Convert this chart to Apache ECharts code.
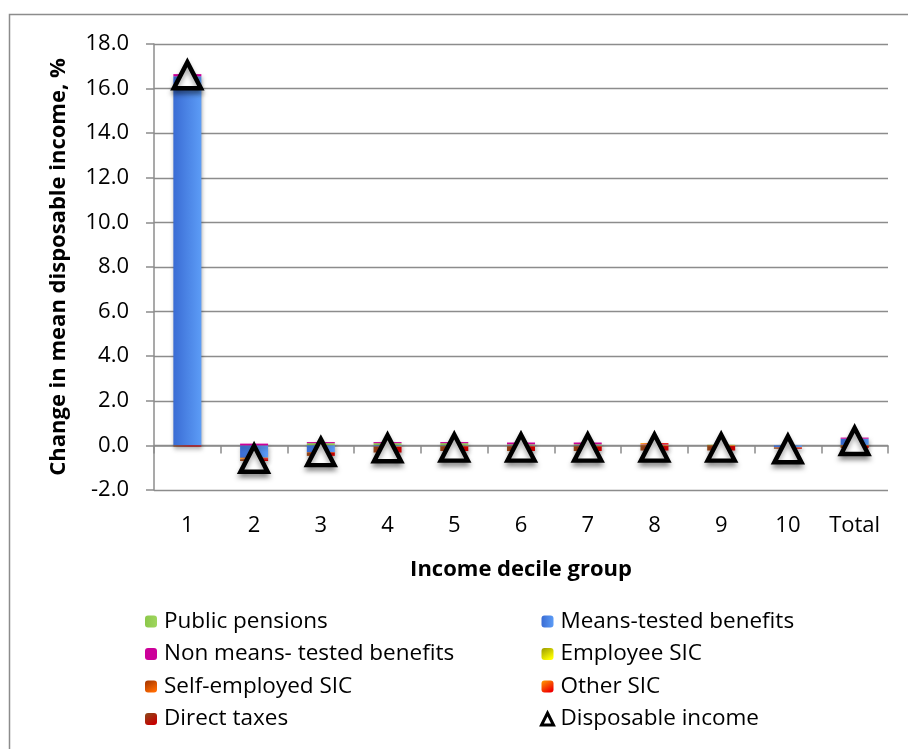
<!DOCTYPE html>
<html><head><meta charset="utf-8">
<script src="https://cdn.jsdelivr.net/npm/echarts@6/dist/echarts.min.js"></script>
<style>html,body{margin:0;padding:0;background:#fff}#c{width:908px;height:749px}</style>
</head><body><div id="c"></div>
<script>
var categories = ['1','2','3','4','5','6','7','8','9','10','Total'];
var publicPensions   = [0, 0, 0.10, 0.10, 0.10, 0.05, 0.05, 0.03, 0.03, 0, 0.02];
var meansTested      = [16.55, -0.55, -0.30, -0.05, -0.02, -0.02, -0.02, 0, 0, -0.08, 0.28];
var nonMeansTested   = [0.10, 0.08, 0.05, 0.05, 0.05, 0.08, 0.08, 0.02, 0, 0, 0.05];
var employeeSIC      = [0, 0, 0, 0, 0, 0, 0, 0, 0, 0, 0];
var selfEmployedSIC  = [0, -0.03, -0.02, -0.02, -0.03, -0.03, -0.03, -0.03, -0.03, -0.02, -0.02];
var otherSIC         = [0, -0.04, 0, 0, 0, 0, 0, 0.05, 0, 0, 0];
var directTaxes      = [-0.05, -0.08, -0.15, -0.25, -0.20, -0.20, -0.20, -0.20, -0.20, -0.05, -0.10];
var disposableIncome = [16.6, -0.6, -0.3, -0.13, -0.1, -0.1, -0.1, -0.1, -0.1, -0.17, 0.2];
var yTicks = {min: -2, max: 18, interval: 2};

var FONT = 'Open Sans';
function grad(c1, c2, x2, y2) {
  return new echarts.graphic.LinearGradient(0, 0, x2, y2, [{offset: 0, color: c1}, {offset: 1, color: c2}]);
}
function barSeries(name, data, color) {
  return {
    name: name, type: 'bar', stack: 'all', data: data, barWidth: 28, xAxisIndex: 0,
    itemStyle: {color: color, shadowColor: 'rgba(0,0,0,0.35)', shadowBlur: 4, shadowOffsetY: 3, shadowOffsetX: 1}
  };
}
var chart = echarts.init(document.getElementById('c'));
var legendText = {fontFamily: FONT, fontSize: 22.5, color: '#000', padding: [0, 0, 0, 2], lineHeight: 22};
chart.setOption({
  animation: false,
  grid: {left: 154, right: 20, top: 44, bottom: 259, containLabel: false},
  graphic: [{type: 'rect', shape: {x: 9.5, y: 14.5, width: 1000, height: 1000}, style: {fill: 'none', stroke: '#8c8c8c', lineWidth: 1.5}, silent: true}],
  legend: [
    {left: 140, top: 605, orient: 'vertical', itemWidth: 12, itemHeight: 12, itemGap: 9.5, textStyle: legendText,
     data: ['Public pensions', 'Non means- tested benefits', 'Self-employed SIC', 'Direct taxes']},
    {left: 535, top: 605, orient: 'vertical', itemWidth: 12, itemHeight: 12, itemGap: 9.5, textStyle: legendText,
     data: ['Means-tested benefits', 'Employee SIC', 'Other SIC',
            {name: 'Disposable income', icon: 'triangle', itemStyle: {color: '#fff', borderColor: '#000', borderWidth: 3, opacity: 1}}]}
  ],
  xAxis: [
    {type: 'category', data: categories, position: 'bottom',
     axisLine: {show: false, onZero: false}, axisTick: {show: false},
     axisLabel: {fontFamily: FONT, fontSize: 22, color: '#000', margin: 25},
     name: 'Income decile group', nameLocation: 'middle', nameGap: 69,
     nameTextStyle: {fontFamily: FONT, fontSize: 22, fontWeight: 'bold', color: '#000'}},
    {type: 'category', data: categories, position: 'bottom',
     axisLine: {show: true, onZero: true, lineStyle: {color: '#8c8c8c', width: 1.5}},
     axisTick: {show: true, length: 8, lineStyle: {color: '#8c8c8c', width: 1.5}},
     axisLabel: {show: false}}
  ],
  yAxis: {
    type: 'value', min: yTicks.min, max: yTicks.max, interval: yTicks.interval,
    axisLine: {show: true, lineStyle: {color: '#8c8c8c', width: 1.5}},
    axisTick: {show: true, length: 8, lineStyle: {color: '#8c8c8c', width: 1.5}},
    splitLine: {show: true, lineStyle: {color: '#8c8c8c', width: 1.3}},
    axisLabel: {fontFamily: FONT, fontSize: 22, color: '#000', margin: 25, formatter: function (v) { return v.toFixed(1); }},
    name: 'Change in mean disposable income, %', nameLocation: 'middle', nameGap: 84, nameRotate: 90,
    nameTextStyle: {fontFamily: FONT, fontSize: 22, fontWeight: 'bold', color: '#000'}
  },
  series: [
    barSeries('Public pensions', publicPensions, grad('#8cc84a', '#9fd65e', 1, 0)),
    barSeries('Means-tested benefits', meansTested, grad('#3a6cd4', '#5c9cf6', 1, 0)),
    barSeries('Non means- tested benefits', nonMeansTested, '#cc0099'),
    barSeries('Employee SIC', employeeSIC, grad('#9a9a00', '#ffff00', 0.6, 1)),
    barSeries('Self-employed SIC', selfEmployedSIC, grad('#a03300', '#ff6a00', 0.6, 1)),
    barSeries('Other SIC', otherSIC, grad('#ff9d00', '#f00000', 0.6, 1)),
    barSeries('Direct taxes', directTaxes, grad('#8a4a1a', '#c80000', 0.6, 1)),
    {name: 'Disposable income', type: 'scatter', data: disposableIncome, xAxisIndex: 0,
     symbol: 'triangle', symbolSize: [27, 26], z: 5,
     itemStyle: {color: '#fff', borderColor: '#000', borderWidth: 4.5, opacity: 1,
                 shadowColor: 'rgba(0,0,0,0.35)', shadowBlur: 5, shadowOffsetY: 4}}
  ]
});
</script></body></html>
